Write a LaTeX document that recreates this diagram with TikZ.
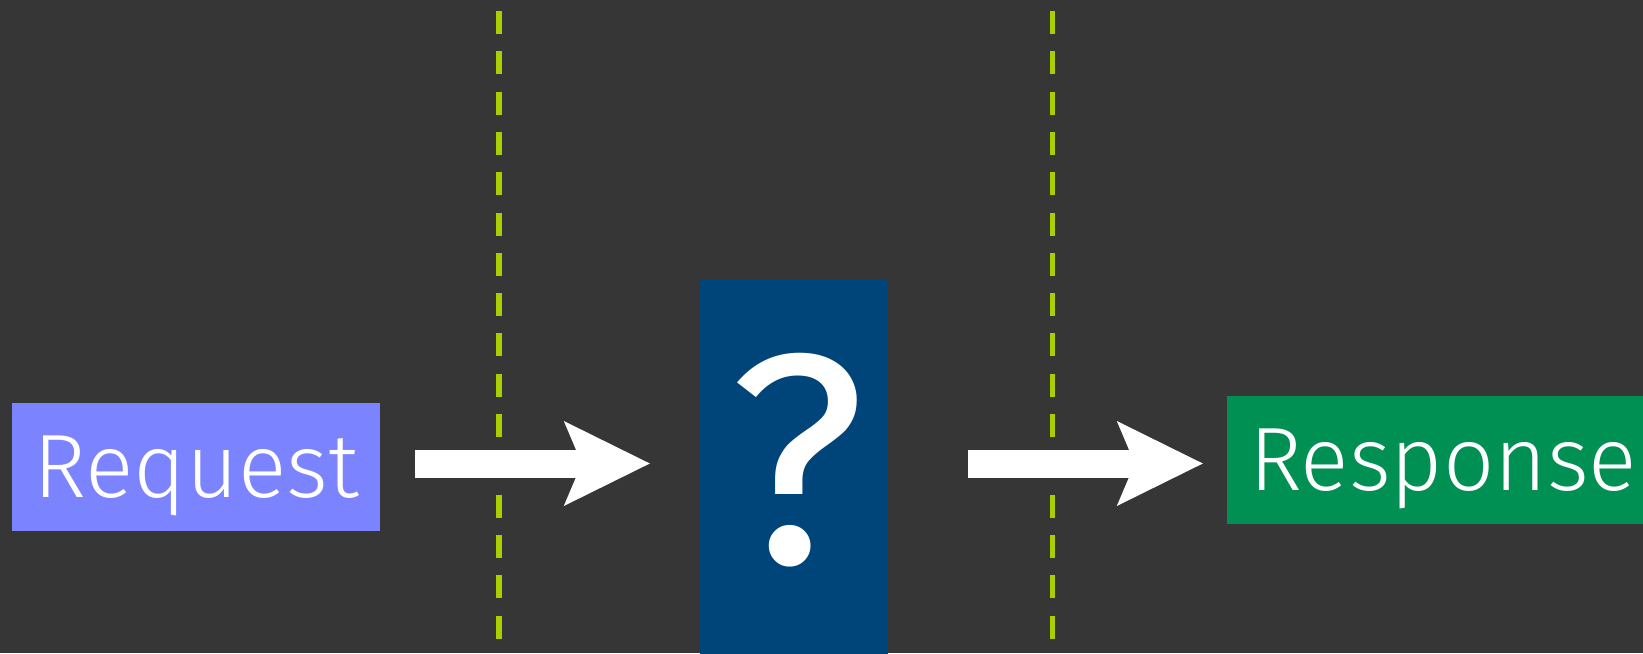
\documentclass[tikz,border=0pt]{standalone}
\usepackage{fontspec}
\IfFontExistsTF{Fira Sans Light}{\setmainfont{Fira Sans Light}}{\setmainfont{Fira Sans}}
\newfontfamily\qfont{Fira Sans}
\usetikzlibrary{arrows.meta}
\definecolor{bgdark}{HTML}{363636}
\definecolor{reqblue}{HTML}{7B83FF}
\definecolor{navy}{HTML}{00457A}
\definecolor{resgreen}{HTML}{009054}
\definecolor{lime}{HTML}{AACF00}

\begin{document}
\begin{tikzpicture}[x=1pt, y=-1pt,
  box/.style={inner sep=0pt, text=white, text depth=0pt, font=\fontsize{90}{90}\selectfont},
  reqbox/.style={box, fill=reqblue, minimum width=368pt, minimum height=128pt},
  resbox/.style={box, fill=resgreen, minimum width=432pt, minimum height=128pt},
  qbox/.style={fill=navy, inner sep=0pt, minimum width=188pt, minimum height=381pt},
  qmark/.style={box, font=\qfont\fontsize{300}{300}\selectfont},
  big/.style={white, line width=28pt, -{Stealth[length=86pt, width=85pt, inset=18pt, line width=0pt]}},
  divider/.style={lime, line width=5.7pt, dash pattern=on 23pt off 17.3pt}]
  \fill[bgdark] (0,0) rectangle (1643,653);
  \useasboundingbox (0,0) rectangle (1643,653);
  % tier borders
  \coordinate (d1a) at (499,11); \coordinate (d1b) at (499,639);
  \coordinate (d2a) at (1052.5,11); \coordinate (d2b) at (1052.5,639);
  \draw[divider] (d1a) -- (d1b); \draw[divider] (d2a) -- (d2b);
  % boxes
  \node[reqbox] (req) at (196,467) {Request};
  \node[qbox] (q) at (794,469.5) {};
  \node[qmark] (qm) at (797,458.5) {?};
  \node[resbox] (res) at (1443,460) {Response};
  % flow
  \coordinate (flow) at (0,463.5);
  \draw[big, shorten <=35pt, shorten >=50pt] (req.east |- flow) -- (q.west |- flow);
  \draw[big, shorten <=80pt, shorten >=24pt] (q.east |- flow) -- (res.west |- flow);
\end{tikzpicture}
\end{document}
